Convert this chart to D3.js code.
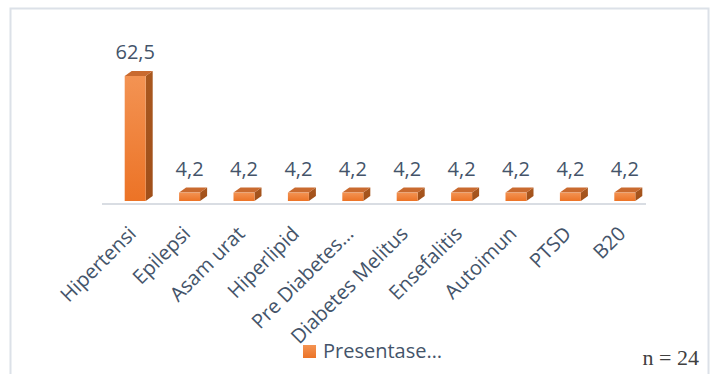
<!DOCTYPE html>
<html>
<head>
<meta charset="utf-8">
<script src="https://cdn.jsdelivr.net/npm/d3@7"></script>
<style>
  body { margin: 0; background: #fff; }
  svg { display: block; }
  text { font-family: "Open Sans", sans-serif; }
</style>
</head>
<body>
<div id="chart"></div>
<script>
/* DATA */
const categories = ["Hipertensi", "Epilepsi", "Asam urat", "Hiperlipid", "Pre Diabetes…",
  "Diabetes Melitus", "Ensefalitis", "Autoimun", "PTSD", "B20"];
const values = [62.5, 4.2, 4.2, 4.2, 4.2, 4.2, 4.2, 4.2, 4.2, 4.2];
const seriesName = "Presentase…";
const sampleNote = "n = 24";

/* CONSTANTS */
const width = 713,
  height = 374,
  depthX = 7,
  depthY = 5,
  textColor = "#44546A";

const commaFormat = d3.formatLocale({ decimal: ",", thousands: ".", grouping: [3], currency: ["", ""] }).format(".1f");

const data = categories.map((c, i) => ({ cat: c, value: values[i] }));

const svg = d3.select("#chart")
  .append("svg")
  .attr("width", width)
  .attr("height", height);

// outer frame
svg.append("rect")
  .attr("x", 10.5)
  .attr("y", 8.5)
  .attr("width", 698)
  .attr("height", 400)
  .attr("fill", "none")
  .attr("stroke", "#DCE1E8")
  .attr("stroke-width", 2);

// gradients
const defs = svg.append("defs");
const front = defs.append("linearGradient").attr("id", "frontGrad").attr("x1", 0).attr("y1", 0).attr("x2", 0).attr("y2", 1);
front.append("stop").attr("offset", "0%").attr("stop-color", "#F39353");
front.append("stop").attr("offset", "100%").attr("stop-color", "#EC7326");
const side = defs.append("linearGradient").attr("id", "sideGrad").attr("x1", 0).attr("y1", 0).attr("x2", 0).attr("y2", 1);
side.append("stop").attr("offset", "0%").attr("stop-color", "#A9581F");
side.append("stop").attr("offset", "100%").attr("stop-color", "#A04F1A");
const legendGrad = defs.append("linearGradient").attr("id", "legendGrad").attr("x1", 0).attr("y1", 0).attr("x2", 0).attr("y2", 1);
legendGrad.append("stop").attr("offset", "0%").attr("stop-color", "#F39353");
legendGrad.append("stop").attr("offset", "100%").attr("stop-color", "#EC7326");

/* SCALES */
const xScale = d3.scaleBand()
  .domain(categories)
  .range([108, 652])
  .paddingInner(0.614)
  .paddingOuter(0.307);

const yScale = d3.scaleLinear()
  .domain([0, 70])
  .range([201, 61]);

const bw = xScale.bandwidth();
const y0 = yScale(0);

// floor line
svg.append("line")
  .attr("x1", xScale.range()[0] - 6)
  .attr("x2", xScale.range()[1] - 6)
  .attr("y1", y0 + 3)
  .attr("y2", y0 + 3)
  .attr("stroke", "#D9DDE3")
  .attr("stroke-width", 2);

/* BARS */
const bars = svg.selectAll(".bar")
  .data(data)
  .join("g")
  .attr("class", "bar");

bars.append("path")
  .attr("fill", "url(#sideGrad)")
  .attr("d", d => {
    const x = xScale(d.cat) + bw, yt = yScale(d.value);
    return `M${x},${yt} L${x + depthX},${yt - depthY} L${x + depthX},${y0 - depthY} L${x},${y0} Z`;
  });

bars.append("path")
  .attr("fill", "#C96A2F")
  .attr("d", d => {
    const x = xScale(d.cat), yt = yScale(d.value);
    return `M${x},${yt} L${x + depthX},${yt - depthY} L${x + bw + depthX},${yt - depthY} L${x + bw},${yt} Z`;
  });

bars.append("rect")
  .attr("x", d => xScale(d.cat))
  .attr("y", d => yScale(d.value))
  .attr("width", bw)
  .attr("height", d => y0 - yScale(d.value))
  .attr("fill", "url(#frontGrad)");

// value labels
svg.selectAll(".value-label")
  .data(data)
  .join("text")
  .attr("class", "value-label")
  .attr("x", d => xScale(d.cat) + bw / 2)
  .attr("y", d => yScale(d.value) - 17)
  .attr("text-anchor", "middle")
  .attr("font-size", 20)
  .attr("fill", textColor)
  .text(d => commaFormat(d.value));

// category labels
svg.selectAll(".cat-label")
  .data(categories)
  .join("text")
  .attr("class", "cat-label")
  .attr("transform", d => `translate(${xScale(d) + bw / 2 + 2}, 235) rotate(-45)`)
  .attr("text-anchor", "end")
  .attr("font-size", 20)
  .attr("fill", textColor)
  .text(d => d);

/* LEGEND */
svg.append("rect")
  .attr("x", 303)
  .attr("y", 345)
  .attr("width", 13)
  .attr("height", 13)
  .attr("fill", "url(#legendGrad)");

svg.append("text")
  .attr("x", 323)
  .attr("y", 358)
  .attr("font-size", 20)
  .attr("fill", textColor)
  .text(seriesName);

svg.append("text")
  .attr("x", 699)
  .attr("y", 365)
  .attr("text-anchor", "end")
  .attr("font-size", 22)
  .attr("fill", "#404040")
  .style("font-family", "'Liberation Serif', 'Times New Roman', serif")
  .text(sampleNote);
</script>
</body>
</html>
